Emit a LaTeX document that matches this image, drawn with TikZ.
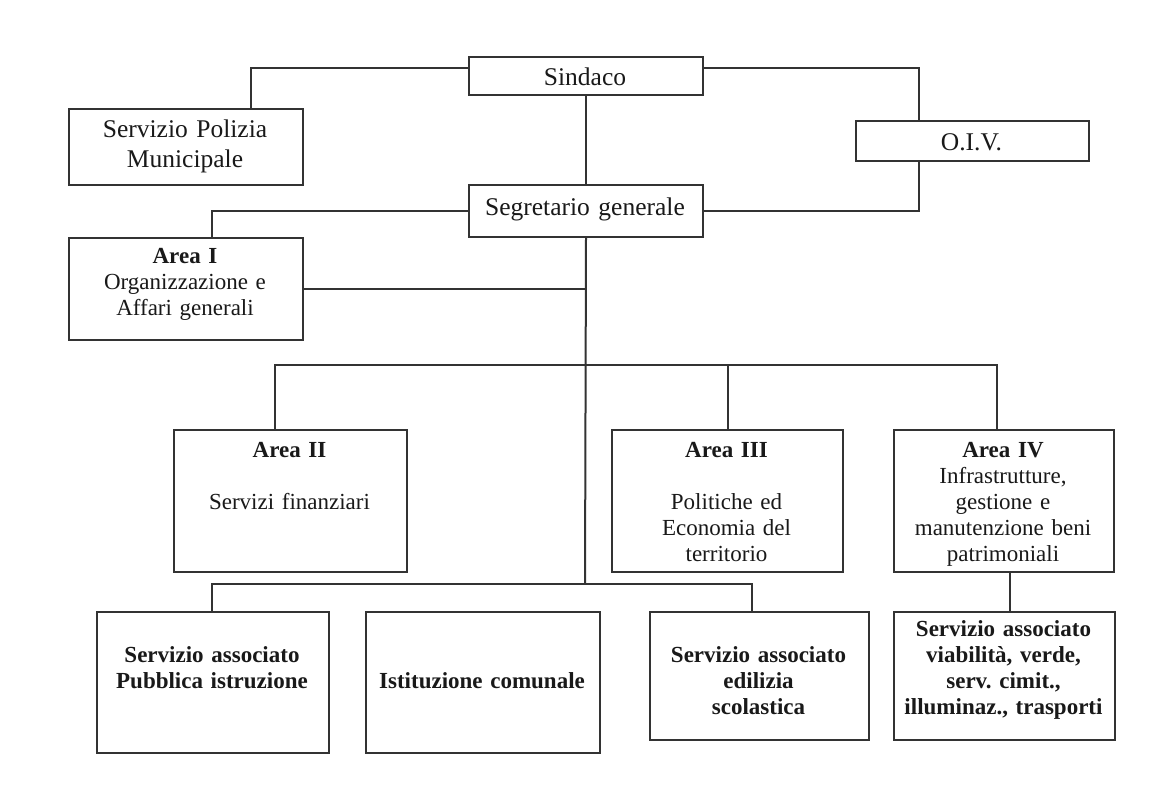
\documentclass[tikz,border=0pt]{standalone}
\usepackage{fontspec}
\setmainfont{Liberation Serif}
\frenchspacing
\begin{document}
\begin{tikzpicture}[x=1pt,y=-1pt,
  box/.style={draw=black!80, line width=2pt, inner sep=0pt, anchor=north west},
  con/.style={draw=black!80, line width=2pt},
  big/.style={font=\fontsize{25.5}{30}\selectfont\frenchspacing, text=black!90, inner sep=0pt, align=center, anchor=base},
  txt/.style={font=\fontsize{23}{26}\selectfont\frenchspacing, text=black!90, inner sep=0pt, align=center, anchor=base},
  btxt/.style={font=\fontsize{23}{26}\selectfont\bfseries\frenchspacing, text=black!90, inner sep=0pt, align=center, anchor=base}]
\fill[white] (0,0) rectangle (1157,792);
\useasboundingbox (0,0) rectangle (1157,792);

% boxes
\node[box, minimum width=234pt, minimum height=38pt]  (sindaco) at (468,56) {};
\node[box, minimum width=234pt, minimum height=52pt]  (segr)    at (468,184) {};
\node[box, minimum width=234pt, minimum height=76pt]  (polizia) at (68,108) {};
\node[box, minimum width=233pt, minimum height=40pt]  (oiv)     at (855,120) {};
\node[box, minimum width=234pt, minimum height=102pt] (area1)   at (68,237) {};
\node[box, minimum width=233pt, minimum height=142pt] (area2)   at (173,429) {};
\node[box, minimum width=231pt, minimum height=142pt] (area3)   at (611,429) {};
\node[box, minimum width=220pt, minimum height=142pt] (area4)   at (893,429) {};
\node[box, minimum width=232pt, minimum height=141pt] (pubbl)   at (96,611) {};
\node[box, minimum width=234pt, minimum height=141pt] (istit)   at (365,611) {};
\node[box, minimum width=219pt, minimum height=128pt] (edil)    at (649,611) {};
\node[box, minimum width=221pt, minimum height=128pt] (viab)    at (893,611) {};

% bend points
\coordinate (kPol)  at (251,68);
\coordinate (kOiv)  at (919,68);
\coordinate (kA1)   at (212,211);
\coordinate (kOiv2) at (919,211);
\coordinate (trunkEnd) at (585,584);
\coordinate (busL)  at (275,365);
\coordinate (busR)  at (997,365);
\coordinate (lbL)   at (212,584);
\coordinate (lbR)   at (752,584);
\coordinate (kVia)  at (1010,590);

% connectors
\draw[con] (sindaco.west |- kPol) -- (kPol) -- (polizia.north -| kPol);
\draw[con] (sindaco.east |- kOiv) -- (kOiv) -- (oiv.north -| kOiv);
\draw[con] (sindaco.south) -- (segr.north);
\draw[con] (segr.west |- kA1) -- (kA1) -- (area1.north -| kA1);
\draw[con] (oiv.south -| kOiv2) -- (kOiv2) -- (segr.east |- kOiv2);
\draw[con] (segr.south) -- (trunkEnd);
\draw[con] (area1.east) -- (area1.east -| segr.south);
\draw[con] (area2.north -| busL) -- (busL) -- (busR) -- (area4.north -| busR);
\draw[con] (area3.north) -- (area3.north |- busL);
\draw[con] (pubbl.north -| lbL) -- (lbL) -- (lbR) -- (edil.north -| lbR);
\draw[con] (area4.south -| kVia) -- (viab.north -| kVia);

% texts
\node[big, text width=234pt] (tSind) at (585,85) {Sindaco};
\node[big, text width=234pt] (tSegr) at (585,215) {Segretario generale};
\node[big, text width=233pt] (tOiv) at (971.5,150) {O.I.V.};
\node[big, text width=234pt] (tPol) at (185,137) {Servizio Polizia\\Municipale};
\node[txt, text width=234pt] (tA1) at (185,263) {\textbf{Area I}\\Organizzazione e\\Affari generali};
\node[txt, text width=233pt] (tA2) at (289.5,457) {\textbf{Area II}\\[26pt]Servizi finanziari};
\node[txt, text width=231pt] (tA3) at (726.5,457) {\textbf{Area III}\\[26pt]Politiche ed\\Economia del\\territorio};
\node[txt, text width=220pt] (tA4) at (1003,457) {\textbf{Area IV}\\Infrastrutture,\\gestione e\\manutenzione beni\\patrimoniali};
\node[btxt, text width=232pt] (tPub) at (212,662) {Servizio associato\\Pubblica istruzione};
\node[btxt, text width=234pt] (tIst) at (482,688) {Istituzione comunale};
\node[btxt, text width=219pt] (tEdi) at (758.5,662) {Servizio associato\\edilizia\\scolastica};
\node[btxt, text width=221pt] (tVia) at (1003.5,636) {Servizio associato\\viabilità, verde,\\serv. cimit.,\\illuminaz., trasporti};
\end{tikzpicture}
\end{document}
